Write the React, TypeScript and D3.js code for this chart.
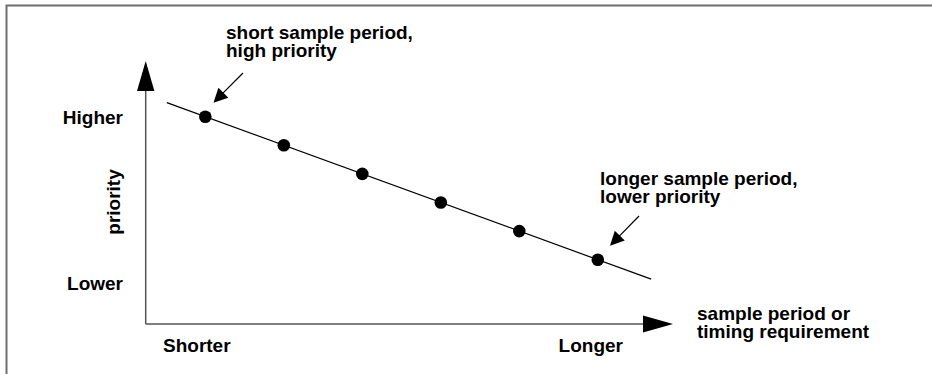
import React from "react";
import * as d3 from "d3";

// ---- data ----
const periods = [1, 2, 3, 4, 5, 6];
const priorities = [6, 5, 4, 3, 2, 1];
const trendExtent = [0.51, 6.68]; // period range covered by the trend line
const yTickLabels = ["Higher", "Lower"];
const xTickLabels = ["Shorter", "Longer"];
const yAxisTitle = "priority";
const xAxisTitle = ["sample period or", "timing requirement"];
const noteHigh = ["short sample period,", "high priority"];
const noteLow = ["longer sample period,", "lower priority"];

const W = 932;
const H = 374;
const FONT = "'Liberation Sans', Arial, Helvetica, sans-serif";

export default function App() {
  const x = d3.scaleLinear().domain([1, 6]).range([205.3, 597.8]);
  const y = d3.scaleLinear().domain([1, 6]).range([259.7, 116.7]);
  // linear relation period -> priority, taken from the first and last points
  const fit = d3
    .scaleLinear()
    .domain([periods[0], periods[periods.length - 1]])
    .range([priorities[0], priorities[priorities.length - 1]]);
  const line = d3
    .line<number>()
    .x((p) => x(p))
    .y((p) => y(fit(p)));

  const ox = 145.7;
  const oy = 324;
  const textStyle: React.CSSProperties = {
    fontFamily: FONT,
    fontWeight: "bold",
    fontSize: 19,
    fill: "#000",
  };

  const arrowHead = (tx: number, ty: number, angle: number, len: number, half: number) => {
    const bx = tx - len * Math.cos(angle);
    const by = ty - len * Math.sin(angle);
    const px = -Math.sin(angle) * half;
    const py = Math.cos(angle) * half;
    return `M${tx},${ty}L${bx + px},${by + py}L${bx - px},${by - py}Z`;
  };

  const note = (sx: number, sy: number, tx: number, ty: number) => {
    const a = Math.atan2(ty - sy, tx - sx);
    const len = 14;
    return (
      <g>
        <line
          x1={sx}
          y1={sy}
          x2={tx - (len - 2) * Math.cos(a)}
          y2={ty - (len - 2) * Math.sin(a)}
          stroke="#000"
          strokeWidth={1.2}
        />
        <path d={arrowHead(tx, ty, a, len, 7)} fill="#000" />
      </g>
    );
  };

  return (
    <svg
      width={W}
      height={H}
      style={{ position: "absolute", left: 0, top: 0, background: "#fff" }}
    >
      {/* frame */}
      <path d={`M6.5,${H}V5.5H${W}`} fill="none" stroke="#6e6e6e" strokeWidth={2} />

      {/* axes */}
      <line x1={ox} y1={oy} x2={ox} y2={88} stroke="#555" strokeWidth={1.5} />
      <path d={arrowHead(ox, 61, -Math.PI / 2, 30, 8.7)} fill="#000" />
      <line x1={ox} y1={oy} x2={646} y2={oy} stroke="#555" strokeWidth={1.5} />
      <path d={arrowHead(673, oy, 0, 30, 8.5)} fill="#000" />

      {/* trend line */}
      <path d={line(trendExtent) ?? ""} fill="none" stroke="#000" strokeWidth={1.2} />
      {periods.map((p, i) => (
        <circle key={i} cx={x(p)} cy={y(priorities[i])} r={6.3} fill="#000" />
      ))}

      {/* tick labels */}
      <text x={123} y={124} textAnchor="end" style={textStyle}>
        {yTickLabels[0]}
      </text>
      <text x={123} y={290} textAnchor="end" style={textStyle}>
        {yTickLabels[1]}
      </text>
      <text x={163} y={352} style={textStyle}>
        {xTickLabels[0]}
      </text>
      <text x={623} y={352} textAnchor="end" style={textStyle}>
        {xTickLabels[1]}
      </text>

      {/* axis titles */}
      <text
        transform="translate(120,202) rotate(-90)"
        textAnchor="middle"
        style={textStyle}
      >
        {yAxisTitle}
      </text>
      {xAxisTitle.map((t, i) => (
        <text key={i} x={697} y={320 + i * 18} style={textStyle}>
          {t}
        </text>
      ))}

      {/* annotations */}
      {noteHigh.map((t, i) => (
        <text key={i} x={226} y={39 + i * 18} style={textStyle}>
          {t}
        </text>
      ))}
      {note(243, 73, 213.5, 102.7)}
      {noteLow.map((t, i) => (
        <text key={i} x={600} y={185 + i * 18} style={textStyle}>
          {t}
        </text>
      ))}
      {note(639, 216, 610, 245.7)}
    </svg>
  );
}
